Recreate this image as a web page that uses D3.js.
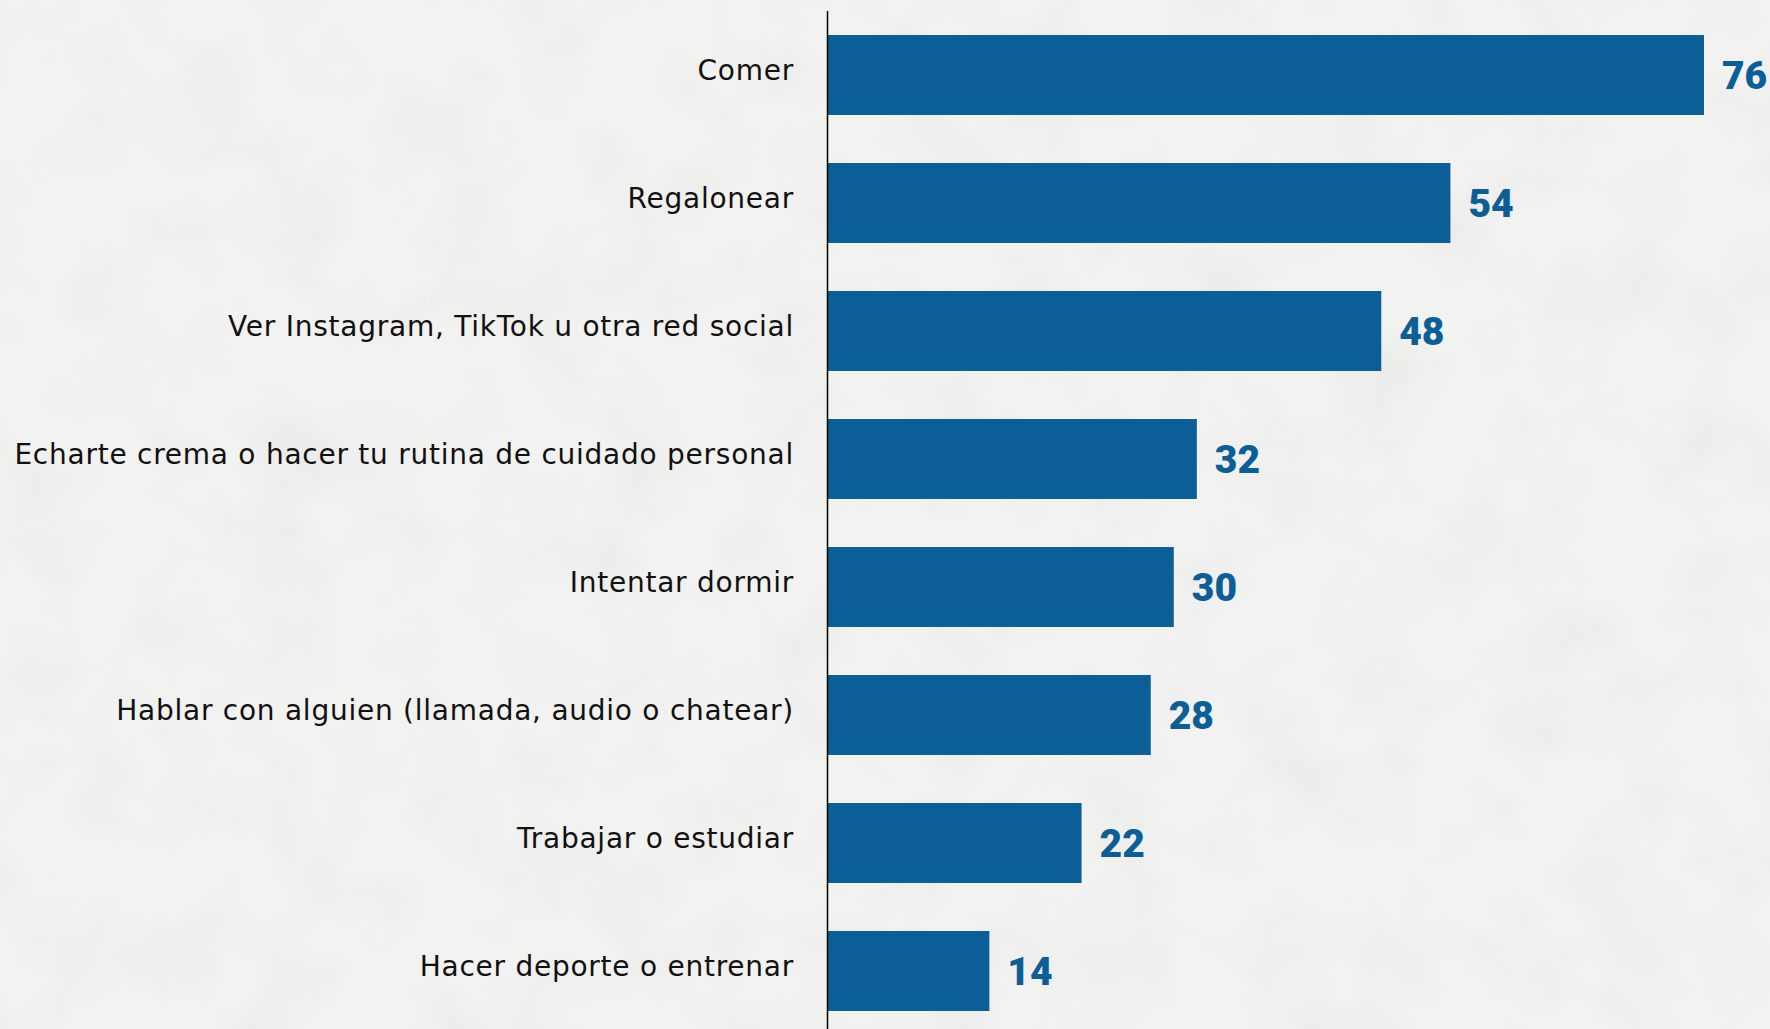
<!DOCTYPE html>
<html>
<head>
<meta charset="utf-8">
<script src="https://cdn.jsdelivr.net/npm/d3@7"></script>
<style>
  html, body { margin: 0; padding: 0; background: #f1f1f0; }
  svg { display: block; }
</style>
</head>
<body>
<div id="chart"></div>
<script>
// chart data
var categories = [
    'Comer',
    'Regalonear',
    'Ver Instagram, TikTok u otra red social',
    'Echarte crema o hacer tu rutina de cuidado personal',
    'Intentar dormir',
    'Hablar con alguien (llamada, audio o chatear)',
    'Trabajar o estudiar',
    'Hacer deporte o entrenar'
];
var values = [76, 54, 48, 32, 30, 28, 22, 14];

var width = 1770,
    height = 1029,
    barColor = '#0c5e97',
    axisX = 828;

var svg = d3.select('#chart').append('svg')
    .attr('width', width)
    .attr('height', height);

// faint paper grain for the background
var filter = svg.append('defs').append('filter')
    .attr('id', 'paper')
    .attr('x', 0).attr('y', 0)
    .attr('width', '100%').attr('height', '100%');
filter.append('feTurbulence')
    .attr('type', 'fractalNoise')
    .attr('baseFrequency', 0.012)
    .attr('numOctaves', 4)
    .attr('seed', 3);
filter.append('feColorMatrix')
    .attr('type', 'matrix')
    .attr('values', '0 0 0 0 0.55  0 0 0 0 0.55  0 0 0 0 0.55  0 0 0 -1.6 0.9');

svg.append('rect')
    .attr('width', width)
    .attr('height', height)
    .attr('fill', '#f2f2f1');

svg.append('rect')
    .attr('width', width)
    .attr('height', height)
    .attr('filter', 'url(#paper)')
    .attr('opacity', 0.18);

var x = d3.scaleLinear()
    .domain([0, 76])
    .range([axisX, 1704]);

var y = d3.scaleBand()
    .domain(categories)
    .range([11, 1035])
    .paddingInner(0.375)
    .paddingOuter(0.1875);

var rows = svg.selectAll('g.row')
    .data(categories)
    .enter()
    .append('g')
    .attr('class', 'row');

rows.append('rect')
    .attr('x', x(0))
    .attr('y', function (d) { return y(d); })
    .attr('width', function (d, i) { return x(values[i]) - x(0); })
    .attr('height', y.bandwidth())
    .attr('fill', barColor);

rows.append('text')
    .text(function (d) { return d; })
    .attr('x', axisX - 34)
    .attr('y', function (d) { return y(d) + y.bandwidth() / 2 + 5; })
    .attr('text-anchor', 'end')
    .style('font-family', '"DejaVu Sans", sans-serif')
    .style('font-size', '28px')
    .style('letter-spacing', '0.75px')
    .attr('fill', '#111');

rows.append('text')
    .text(function (d, i) { return values[i]; })
    .attr('x', function (d, i) { return x(values[i]) + 18; })
    .attr('y', function (d) { return y(d) + y.bandwidth() / 2 + 14; })
    .style('font-family', 'Roboto, sans-serif')
    .style('font-weight', 900)
    .style('font-size', '39px')
    .attr('fill', barColor);

// vertical baseline
svg.append('line')
    .attr('x1', axisX - 0.5)
    .attr('x2', axisX - 0.5)
    .attr('y1', 11)
    .attr('y2', height)
    .attr('stroke', '#000')
    .attr('stroke-width', 1.5);
</script>
</body>
</html>
